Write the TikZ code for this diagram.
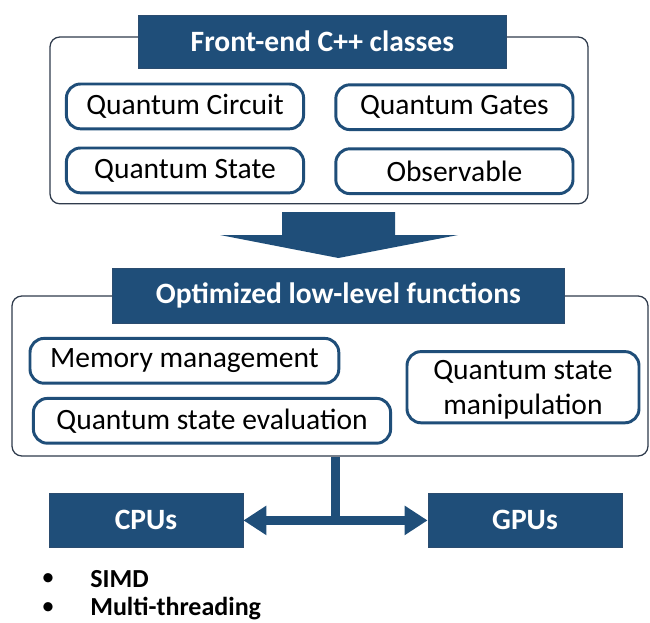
\documentclass[tikz,border=0pt]{standalone}
\usepackage{fontspec}
\setmainfont{Carlito}
\usepackage{tikz}
\usetikzlibrary{positioning,arrows.meta}
\definecolor{DeepBlue}{HTML}{1F4E79}
\definecolor{FrameBlue}{HTML}{2B4C6F}
\definecolor{OutlineGray}{HTML}{2F3B4C}
\tikzset{
  groupbox/.style={draw=OutlineGray,line width=0.9pt,rounded corners=7pt,fill=white,
    inner sep=0pt},
  headbox/.style={draw=FrameBlue,fill=DeepBlue,line width=0.6pt,text=white,
    font=\fontsize{21}{25}\selectfont\bfseries,inner sep=0pt,minimum height=1.33cm},
  itembox/.style={draw=DeepBlue,fill=white,line width=2.1pt,rounded corners=10pt,
    font=\fontsize{21}{25}\selectfont,align=center,inner sep=0pt,minimum height=1.12cm},
  hwbox/.style={headbox,minimum width=4.85cm,minimum height=1.37cm},
  busline/.style={draw=DeepBlue,line width=6pt},
  bulletdot/.style={font=\fontsize{18.5}{22}\selectfont,inner sep=0pt},
  bullettext/.style={font=\fontsize{18.5}{22}\selectfont\bfseries,anchor=west,inner sep=0pt},
}

\begin{document}
\begin{tikzpicture}
  \useasboundingbox (0,0) rectangle (16.25,-15.55);
  % front-end layer
  \node[groupbox,minimum width=13.45cm,minimum height=4.17cm] (frame1) at (7.975,-3.01) {};
  \node[headbox,minimum width=9.22cm] (fronthead) at (8.06,-1.04) {Front-end C++ classes};
  \node[itembox,minimum width=5.93cm] (circ) at (4.625,-2.66) {Quantum Circuit};
  \node[itembox,minimum width=5.93cm] (gates) at (11.36,-2.68) {Quantum Gates};
  \node[itembox,minimum width=5.93cm] (qstate) at (4.625,-4.26) {Quantum State};
  \node[itembox,minimum width=5.93cm] (obs) at (11.36,-4.28) {Observable};
  % big down arrow
  \fill[DeepBlue] (7.05,-5.3) -- (9.875,-5.3) -- (9.875,-5.875) -- (11.45,-5.875)
    -- (8.46,-6.45) -- (5.5,-5.875) -- (7.05,-5.875) -- cycle;
  % low-level layer
  \node[groupbox,minimum width=15.9cm,minimum height=4.0cm] (frame2) at (8.25,-9.4) {};
  \node[headbox,minimum width=11.3cm,minimum height=1.37cm] (lowhead) at (8.46,-7.39) {Optimized low-level functions};
  \node[itembox,minimum width=7.72cm] (mem) at (4.61,-9.02) {Memory management};
  \node[itembox,minimum width=8.93cm] (eval) at (5.3,-10.52) {Quantum state evaluation};
  \node[itembox,minimum width=5.8cm,minimum height=1.78cm,text depth=0pt] (manip) at (13.075,-9.68) {Quantum state\\manipulation};
  % hardware
  \node[hwbox] (cpu) at (3.65,-13.01) {CPUs};
  \node[hwbox] (gpu) at (13.125,-13.01) {GPUs};
  \coordinate (split) at (8.39,-13.03);
  \draw[busline] (split |- frame2.south) -- (split);
  \draw[busline,{Triangle[length=0.575cm,width=0.7cm]}-{Triangle[length=0.575cm,width=0.7cm]}]
    (cpu.east) -- (gpu.west);
  % bullets
  \node[bulletdot] (dot1) at (1.2,-14.48) {•};
  \node[bullettext] (simd) at (2.25,-14.48) {SIMD};
  \node[bulletdot] (dot2) at (1.2,-15.22) {•};
  \node[bullettext] (mthread) at (2.25,-15.22) {Multi-threading};
\end{tikzpicture}
\end{document}
